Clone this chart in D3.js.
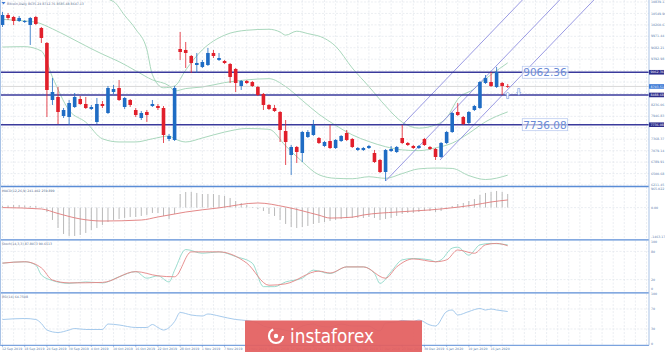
<!DOCTYPE html>
<html><head><meta charset="utf-8">
<script src="https://cdn.jsdelivr.net/npm/d3@7"></script>
<style>body{margin:0;background:#fff}svg{display:block}text{font-family:"DejaVu Sans",sans-serif}</style>
</head><body><svg id="c" width="665" height="352"></svg>
<script>
// ---------------- DATA ----------------
const title = "Bitcoin,Daily  8635.24 8712.76 8585.48 8647.13";
const open  = [10258,10511,10460,10359,10334,10258,10460,10182,9803,8361,8437,7956,7931,8184,8386,8260,8134,7805,8260,8032,8564,8665,8184,8361,8108,7906,8058,8209,8209,8159,7375,7350,9651,9626,9474,9246,9196,9246,9550,9373,9347,9272,9145,8715,8842,8816,8690,8513,8235,8159,8058,7577,6970,7173,7021,7425,7476,7400,7198,7324,7147,7324,7527,7375,7097,7097,7147,7021,6844,6540,7071,7046,7400,7274,7198,7147,7375,7173,7122,6920,7274,7552,8058,7931,7779,8108,8159,8791,8816,8690,8791,8715];
const close = [10511,10435,10359,10435,10359,10435,10283,9929,8614,8563,8058,8108,8285,8437,8260,8159,8184,8260,8209,8665,8639,8361,8412,8235,7982,8032,7982,8260,8159,7476,7451,8665,9575,9550,9297,9297,9322,9550,9474,9423,9297,8943,8791,8842,8791,8715,8488,8235,8134,8083,7602,7299,7173,7046,7552,7552,7729,7274,7299,7147,7350,7451,7350,7173,7147,7147,7198,6793,6540,7097,7122,7173,7274,7223,7147,7198,7223,7122,6920,7274,7552,8032,7982,7754,8058,8209,8816,8918,8715,9069,8715,8703];
const high  = [10587,10561,10486,10486,10384,10460,10486,10207,9828,8918,8690,8159,8361,8538,8462,8437,8235,8412,8336,8715,8740,8867,8437,8386,8159,8083,8108,8361,8260,8209,7501,8715,10081,9828,9499,9550,9373,9676,9626,9550,9373,9297,9170,8867,8867,8842,8715,8538,8260,8235,8083,7855,7223,7198,7577,7602,7855,7425,7324,7729,7375,7476,7602,7400,7173,7173,7223,7097,6869,7122,7198,7198,7729,7299,7223,7223,7400,7198,7147,7299,7577,8058,8285,7956,8083,8235,8842,8993,9069,9196,8816,8766];
const low   = [10207,10384,10258,10334,10308,9752,10258,9803,7931,8235,7754,7906,7729,8159,8235,8134,8108,7754,8159,8007,8513,8336,8134,8184,7931,7855,7805,8184,8108,7274,7324,7324,9373,9170,9044,9044,9170,9221,9423,9347,9272,8791,8563,8614,8766,8690,8462,8108,8108,8058,7299,6717,6464,6768,6793,7400,7451,7248,7173,7122,7122,7299,7324,7147,7071,7071,7122,6768,6515,6313,7046,7021,7248,7198,7122,7122,7198,7097,6844,6894,7248,7527,7956,7729,7754,8083,8134,8766,8690,8665,8488,8665];

// Bollinger bands (sparse readings: candle index -> price)
const bbUpIdx  = [0,8,16,20,22,24,26,27,29,31,33,36,40,44,48,50,51,53,55,58,60,63,66,69,72,75,78,80,82,85,86,88,91];
const bbUp     = [10900,10950,11000,10850,10500,10150,9640,9000,8670,8715,9120,9630,10000,10125,10150,10080,10000,10100,10040,9920,9720,9170,8700,8210,7800,7650,7730,7910,8380,8650,8780,9000,9300];
const bbMidIdx = [0,4,6,9,12,15,18,21,24,27,30,31,33,36,40,44,48,51,54,57,60,63,66,69,72,75,78,81,84,87,91];
const bbMid    = [10400,10360,10330,10160,9950,9730,9520,9330,9100,8870,8720,8590,8650,8690,8800,8870,8900,8700,8350,8000,7720,7480,7310,7180,7100,7080,7150,7270,7520,7810,8060];
const bbLoIdx  = [0,4,7,9,12,15,18,21,24,27,30,31,33,36,40,44,48,51,54,57,60,63,66,69,72,75,78,81,84,87,91];
const bbLo     = [9700,9710,9600,8940,8100,7800,7380,7300,7300,7380,7450,7380,7300,7400,7550,7640,7620,7200,6800,6470,6380,6370,6420,6380,6500,6620,6640,6630,6450,6350,6460];

// MACD (main as histogram, signal as line)
const macdMain = [80,106,132,132,106,80,80,30,-223,-627,-1032,-1336,-1437,-1437,-1386,-1285,-1133,-1032,-880,-729,-627,-577,-526,-476,-476,-425,-374,-273,-273,-425,-577,-324,688,789,789,739,688,688,688,638,587,486,334,233,132,30,-71,-172,-324,-425,-627,-830,-982,-1032,-982,-931,-830,-779,-729,-678,-627,-577,-526,-526,-526,-526,-476,-526,-627,-577,-526,-425,-324,-273,-273,-223,-172,-172,-223,-172,-71,81,182,233,334,435,638,739,789,840,789,688];
const macdSigIdx = [0,7,10,14,18,25,28,30,33,39,46,51,57,59,63,65,71,77,79,85,88,91];
const macdSig    = [0,-70,-300,-575,-680,-630,-475,-375,-225,-15,233,30,-385,-530,-485,-375,-225,-120,-70,135,283,385];

// Stochastic
const stKIdx = [0,4,6,7,9,12,15,18,21,24,26,28,30,31,33,36,39,42,45,47,49,51,54,56,59,62,65,67,68,70,72,74,77,78,79,81,82,84,86,88,91];
const stK    = [55,58,51,30,18,12,15,13,26,37,23,28,15,40,84,76,79,69,55,5,5,15,23,40,33,47,47,33,12,37,62,65,62,58,62,87,89,72,94,97,94];
const stDIdx = [0,4,7,9,12,18,24,28,31,34,39,44,48,51,57,59,62,65,69,71,74,78,80,82,85,87,89,91];
const stD    = [55,58,45,19,13,14,37,28,26,79,79,55,8,11,38,34,47,47,23,47,64,58,62,83,76,94,97,92];

// RSI
const rsiIdx = [0,4,6,7,8,10,12,13,15,18,19,21,24,26,27,28,29,31,32,34,36,37,39,42,43,46,47,50,52,54,56,57,59,61,63,66,67,68,69,71,72,74,75,77,78,80,81,82,84,86,87,88,89,91];
const rsi    = [49,51,49,41,28,23,28,31,29,29,40,38,33,33,39,33,28,45,63,58,56,60,56,49,48,42,36,30,26,36,40,36,34,40,36,36,30,26,42,44,47,45,48,38,36,65,68,58,65,71,68,70,68,65];

// Levels and annotations
const levelLines = [9062.36, 8488.68, 7736.08];
const boxLabels  = [9062.36, 7736.08];
const lastPrice  = 8703.51;
const channelStart = [[72,7729],[69,6313],[78.8,6844]];   // [candle index, price]
const channelSlope = 146;                                  // price per candle

// Axis labels
const yTicks = ["6211.45","6500.68","6789.91","7079.14","7368.37","7657.60","7946.83","8236.06","8525.29","8814.52","9103.75","9392.98","9682.21","9971.44","10260.67","10549.90","10839.13"];
const xLabelIdx = [0,4,8,12,16,20,24,28,32,36,40,44,48,52,56,60,64,68,72,76,80,84,88];
const xLabels = ["12 Sep 2019","18 Sep 2019","24 Sep 2019","30 Sep 2019","4 Oct 2019","10 Oct 2019","16 Oct 2019","22 Oct 2019","28 Oct 2019","1 Nov 2019","7 Nov 2019","13 Nov 2019","19 Nov 2019","25 Nov 2019","29 Nov 2019","5 Dec 2019","11 Dec 2019","17 Dec 2019","23 Dec 2019","30 Dec 2019","6 Jan 2020","10 Jan 2020","16 Jan 2020"];
const macdTicks = ["965.022","0.00","-1463.17"];
const macdTickVals = [965.022,0,-1463.17];
const stTicks = [100,80,20,0];
const rsiTicks = [100,70,30,0];
const macdLabel = "MACD(12,26,9) 241.402 259.899";
const stLabel = "Stoch(14,3,3) 87.8073 90.6513";
const rsiLabel = "RSI(14) 64.7508";

// ---------------- LAYOUT ----------------
const W = 665, H = 352, axisX = 649;
const svg = d3.select("#c");
const n = open.length;
const x = d3.scaleLinear().domain([0, 116.45]).range([2.5, axisX]);
const y = d3.scaleLinear().domain([6211.45, 10839.13]).range([185, 2]);
const yM = d3.scaleLinear().domain([-1463.17, 965.022]).range([236.5, 188.5]);
const yS = d3.scaleLinear().domain([0, 100]).range([289, 242]);
const yR = d3.scaleLinear().domain([0, 100]).range([344, 294]);
const panels = [[0,186],[187,239.5],[240.5,292.5],[293.5,345]];

const BLUE = "#1f6cc4", RED = "#e11f2b", GRID = "#dde3ea", SEP = "#5b8dd6", AXT = "#5b7fae";

svg.append("rect").attr("width",W).attr("height",H).attr("fill","#fff");

panels.forEach((p,k)=>{
  svg.append("clipPath").attr("id","cp"+k).append("rect").attr("x",0).attr("y",p[0]).attr("width",axisX).attr("height",p[1]-p[0]);
});

// grid
const gGrid = svg.append("g").attr("stroke",GRID).attr("stroke-width",0.6).attr("stroke-dasharray","2,1.5");
d3.range(0, 117, 2).forEach(i=>{
  panels.forEach(p=>{
    gGrid.append("line").attr("x1",x(i)).attr("x2",x(i)).attr("y1",p[0]).attr("y2",p[1]);
  });
});
yTicks.forEach(t=>{
  gGrid.append("line").attr("x1",0).attr("x2",axisX).attr("y1",y(+t)).attr("y2",y(+t));
});
[80,20].forEach(v=>gGrid.append("line").attr("x1",0).attr("x2",axisX).attr("y1",yS(v)).attr("y2",yS(v)));
[70,30].forEach(v=>gGrid.append("line").attr("x1",0).attr("x2",axisX).attr("y1",yR(v)).attr("y2",yR(v)));
gGrid.append("line").attr("x1",0).attr("x2",axisX).attr("y1",yM(0)).attr("y2",yM(0));

// ---------- main panel ----------
const gMain = svg.append("g").attr("clip-path","url(#cp0)");
const lineGen = (xs, ys, sc) => d3.line().x((d,i)=>x(xs[i])).y((d,i)=>sc(ys[i])).curve(d3.curveMonotoneX)(xs);
[[bbUpIdx,bbUp],[bbMidIdx,bbMid],[bbLoIdx,bbLo]].forEach(([xs,ys])=>{
  gMain.append("path").attr("d",lineGen(xs,ys,y)).attr("fill","none").attr("stroke","#9fd3b4").attr("stroke-width",0.9);
});

gMain.append("line").attr("x1",0).attr("x2",axisX).attr("y1",y(lastPrice)).attr("y2",y(lastPrice)).attr("stroke","#c8c8c8").attr("stroke-width",0.7);

channelStart.forEach(([i0,p0])=>{
  const i1 = i0 + (10839.13 + 400 - p0)/channelSlope;
  gMain.append("line").attr("x1",x(i0)).attr("y1",y(p0)).attr("x2",x(i1)).attr("y2",y(p0 + channelSlope*(i1-i0)))
    .attr("stroke","#8f8fe0").attr("stroke-width",0.9);
});

levelLines.forEach(v=>{
  gMain.append("line").attr("x1",0).attr("x2",axisX).attr("y1",y(v)).attr("y2",y(v)).attr("stroke","#3a3a9c").attr("stroke-width",1.4);
});

const cw = 3.6;
const gC = gMain.append("g");
d3.range(n).forEach(i=>{
  const up = close[i] >= open[i];
  const col = up ? BLUE : RED;
  gC.append("line").attr("x1",x(i)).attr("x2",x(i)).attr("y1",y(high[i])).attr("y2",y(low[i])).attr("stroke",col).attr("stroke-width",0.8);
  const top = y(Math.max(open[i],close[i])), bot = y(Math.min(open[i],close[i]));
  gC.append("rect").attr("x",x(i)-cw/2).attr("y",top).attr("width",cw).attr("height",Math.max(0.8,bot-top)).attr("fill",col);
});

const arrowG = gMain.append("g").attr("fill","#fff").attr("stroke","#7e9fe0").attr("stroke-width",0.7);
const ax1 = x(n-1), ay1 = y(low[n-1]) + 4;
arrowG.append("path").attr("d",`M${ax1},${ay1} l-2.2,2.6 h1.2 v4 h2 v-4 h1.2 z`);
const ax2 = x(n+1), ay2 = y(low[n-1]) + 0.5;
arrowG.append("path").attr("d",`M${ax2-1},${ay2} h2 v4 h1.2 l-2.2,2.8 l-2.2,-2.8 h1.2 z`);

boxLabels.forEach(v=>{
  const g = svg.append("g");
  const t = g.append("text").attr("x",x(93.8)).attr("y",y(v)+4).attr("font-family","Liberation Sans, Arial, sans-serif").attr("font-size",10.5).attr("fill","#6a8ad6").text(v.toFixed(2));
  const bb = t.node().getBBox();
  g.insert("rect","text").attr("x",bb.x-1).attr("y",y(v)-6).attr("width",bb.width+2).attr("height",12).attr("fill","rgba(255,255,255,0.6)").attr("stroke","#b5c6ee").attr("stroke-width",0.7);
});

svg.append("path").attr("d","M1.5,2 h4 l-2,2.5 z").attr("fill","#3d7ad6");
svg.append("text").attr("x",7).attr("y",4.6).attr("font-size",3.2).attr("fill","#5a6f90").text(title);

// ---------- MACD ----------
const gMacd = svg.append("g").attr("clip-path","url(#cp1)");
d3.range(n).forEach(i=>{
  gMacd.append("line").attr("x1",x(i)).attr("x2",x(i)).attr("y1",yM(0)).attr("y2",yM(macdMain[i])).attr("stroke","#b9b9b9").attr("stroke-width",1);
});
gMacd.append("path").attr("d",lineGen(macdSigIdx,macdSig,yM)).attr("fill","none").attr("stroke","#e07a7a").attr("stroke-width",0.9);
svg.append("text").attr("x",2).attr("y",191.5).attr("font-size",3.2).attr("fill","#5a6f90").text(macdLabel);

// ---------- Stoch ----------
const gSt = svg.append("g").attr("clip-path","url(#cp2)");
gSt.append("path").attr("d",lineGen(stKIdx,stK,yS)).attr("fill","none").attr("stroke","#8fd8c8").attr("stroke-width",0.9);
gSt.append("path").attr("d",lineGen(stDIdx,stD,yS)).attr("fill","none").attr("stroke","#e48484").attr("stroke-width",0.9);
svg.append("text").attr("x",2).attr("y",244.5).attr("font-size",3.2).attr("fill","#5a6f90").text(stLabel);

// ---------- RSI ----------
const gR = svg.append("g").attr("clip-path","url(#cp3)");
gR.append("path").attr("d",lineGen(rsiIdx,rsi,yR)).attr("fill","none").attr("stroke","#9cc4ea").attr("stroke-width",0.9);
svg.append("text").attr("x",2).attr("y",297.5).attr("font-size",3.2).attr("fill","#5a6f90").text(rsiLabel);

// ---------- separators & axes ----------
[186.5,239.8,292.8].forEach(v=>svg.append("line").attr("x1",0).attr("x2",axisX).attr("y1",v).attr("y2",v).attr("stroke",SEP).attr("stroke-width",1.3));
svg.append("line").attr("x1",0).attr("x2",axisX).attr("y1",345.3).attr("y2",345.3).attr("stroke",SEP).attr("stroke-width",1);
svg.append("line").attr("x1",axisX).attr("x2",axisX).attr("y1",0).attr("y2",345.3).attr("stroke","#a9c3e6").attr("stroke-width",1);
svg.append("line").attr("x1",0.5).attr("x2",0.5).attr("y1",0).attr("y2",345.3).attr("stroke","#a9c3e6").attr("stroke-width",1);

const hl = [[9062.36,"#2e2e8c"],[lastPrice,"#3d7ad6"],[8488.68,"#2e2e8c"],[7736.08,"#2e2e8c"]];
const yAx = svg.append("g").attr("font-size",3.2).attr("fill",AXT);
yTicks.forEach(t=>{
  const yy = y(+t);
  if (hl.some(([v])=>Math.abs(y(v)-yy) < 4.4)) return;
  yAx.append("text").attr("x",axisX+2).attr("y",yy+1.1).text(t);
});
macdTickVals.forEach((v,k)=>yAx.append("text").attr("x",axisX+2).attr("y",yM(v)+1.1).text(macdTicks[k]));
stTicks.forEach(v=>yAx.append("text").attr("x",axisX+2).attr("y",yS(v)+1.1).text(v));
rsiTicks.forEach(v=>yAx.append("text").attr("x",axisX+2).attr("y",yR(v)+1.1).text(v));

hl.forEach(([v,c])=>{
  svg.append("rect").attr("x",axisX).attr("y",y(v)-2.3).attr("width",15).attr("height",4.6).attr("fill",c);
  svg.append("text").attr("x",axisX+1.5).attr("y",y(v)+1.1).attr("font-size",3.2).attr("fill","#fff").text(v.toFixed(2));
});

const xAx = svg.append("g").attr("font-size",3.2).attr("fill",AXT);
xLabelIdx.forEach((i,k)=>{
  xAx.append("line").attr("x1",x(i)).attr("x2",x(i)).attr("y1",345).attr("y2",347).attr("stroke",SEP).attr("stroke-width",0.5);
  xAx.append("text").attr("x",x(i)-0.5).attr("y",349.8).text(xLabels[k]);
});

// ---------- watermark ----------
const wm = svg.append("g");
wm.append("rect").attr("x",245).attr("y",320.5).attr("width",177).attr("height",32).attr("fill","#e35f5f").attr("opacity",0.93);
wm.append("circle").attr("cx",276).attr("cy",336).attr("r",7).attr("fill","none").attr("stroke","#fff").attr("stroke-width",2.2).attr("stroke-dasharray","30,14");
wm.append("circle").attr("cx",276).attr("cy",336).attr("r",2.2).attr("fill","#fff");
wm.append("text").attr("x",290).attr("y",343).attr("font-family","Open Sans, sans-serif").attr("font-size",20)
  .attr("textLength",84).attr("lengthAdjust","spacingAndGlyphs").attr("fill","#fff").text("instaforex");
</script></body></html>
